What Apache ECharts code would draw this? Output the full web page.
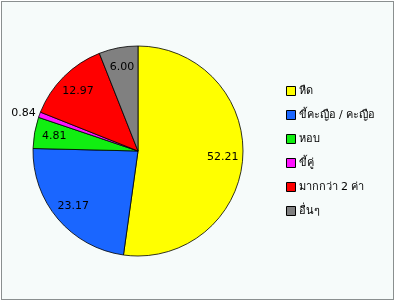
<!DOCTYPE html>
<html><head><meta charset="utf-8">
<script src="https://cdn.jsdelivr.net/npm/echarts@6/dist/echarts.min.js"></script>
<style>
html,body{margin:0;padding:0;background:#fff;}
#wrap{position:absolute;left:1px;top:1px;width:391px;height:297px;border:1px solid #8a8f8f;background:#f6fbfa;}
#c{width:391px;height:297px;}
</style></head><body>
<div id="wrap"><div id="c"></div></div>
<script>
const categories = ['หืด', 'ขี้คะญือ / คะญือ', 'หอบ', 'ขี้คู่', 'มากกว่า 2 ค่า', 'อื่นๆ'];
const values = [52.21, 23.17, 4.81, 0.84, 12.97, 6.00];
const colors = ['#ffff00', '#1a66ff', '#11ee11', '#ff11ff', '#ff0000', '#808080'];
const outsideLabel = [false, false, false, true, false, false];

const font = 'Tahoma, "DejaVu Sans", "Noto Sans", sans-serif';
const chart = echarts.init(document.getElementById('c'));
const mainData = categories.map((n, i) => ({
  name: n, value: values[i],
  itemStyle: {color: colors[i]},
  label: {show: outsideLabel[i]}
}));
const labelData = categories.map((n, i) => ({
  name: n, value: values[i],
  label: {show: !outsideLabel[i]}
}));
chart.setOption({
  animation: false,
  legend: {
    orient: 'vertical', left: 279, top: 77,
    itemWidth: 9, itemHeight: 9, itemGap: 10, icon: 'rect',
    itemStyle: {borderColor: '#000', borderWidth: 1},
    textStyle: {fontFamily: font, fontSize: 11, color: '#000', lineHeight: 14, padding: [0,0,0,-2]},
    data: categories
  },
  series: [{
    type: 'pie', radius: [0, 105], center: [136, 149],
    startAngle: 90, clockwise: true, silent: true,
    itemStyle: {borderColor: '#000', borderWidth: 0.8},
    label: {position: 'outside', overflow: 'none', formatter: p => p.value.toFixed(2), fontFamily: font, fontSize: 11, color: '#000', distanceToLabelLine: 0, padding: [0, 0, 18, 0]},
    labelLine: {show: false, length: 4, length2: 0},
    data: mainData
  }, {
    type: 'pie', radius: [0, 164], center: [136, 149],
    startAngle: 90, clockwise: true, silent: true,
    itemStyle: {color: 'transparent', borderWidth: 0},
    label: {position: 'inside', formatter: p => p.value.toFixed(2), fontFamily: font, fontSize: 11, color: '#000'},
    labelLine: {show: false},
    emphasis: {disabled: true},
    legendHoverLink: false,
    data: labelData
  }]
});
</script></body></html>
